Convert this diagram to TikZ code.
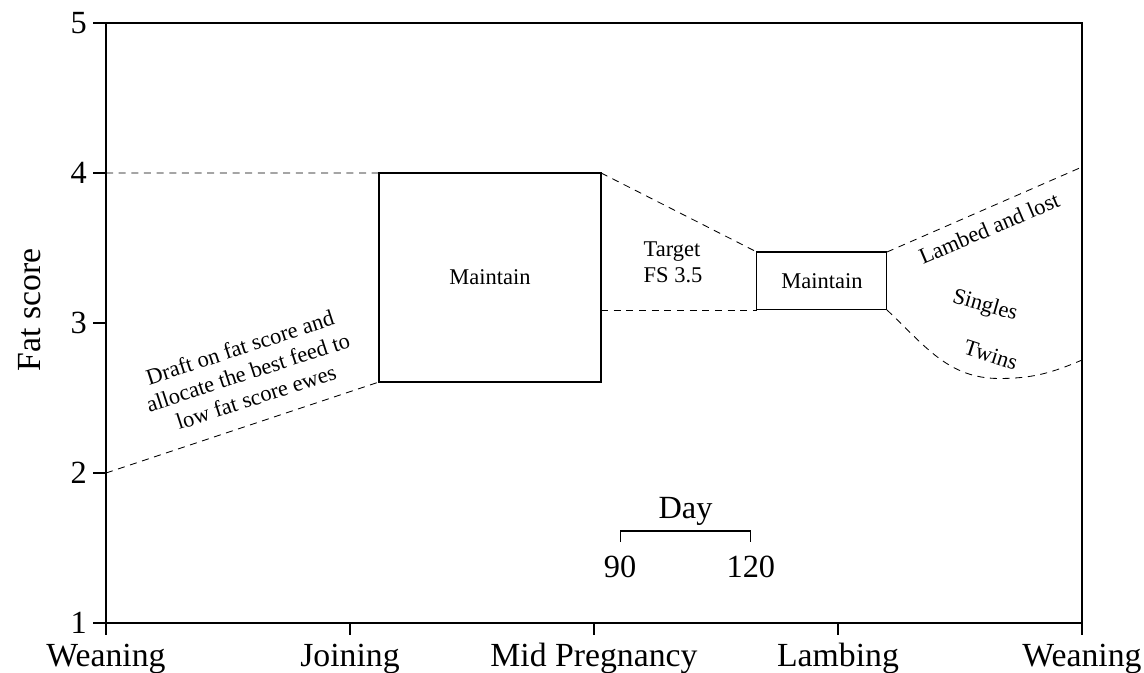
\documentclass[tikz,border=0pt]{standalone}
\usepackage{fontspec}
\setmainfont{Liberation Serif}
\begin{document}
\begin{tikzpicture}[x=6.1cm, y=3.75cm,
    dashline/.style={dash pattern=on 5pt off 4pt, line width=0.6pt},
    phase/.style={draw, line width=0.8pt, inner sep=0pt, outer sep=0pt, font=\fontsize{16}{18.5}\selectfont},
    big/.style={font=\fontsize{24}{28}\selectfont},
    num/.style={font=\fontsize{23}{27}\selectfont},
    note/.style={font=\fontsize{16}{18.5}\selectfont, align=center}]
    \useasboundingbox (-0.4344,0.6667) rectangle (4.2541,5.1533);
    % Frame
    \draw[line width=0.8pt] (0,5) -- (0,1) -- (4,1) -- (4,5) -- cycle;
    % Fat score ticks
    \foreach \y in {1,...,5}
        \draw[line width=0.8pt] (-0.053,\y) -- (0,\y) node[num, pos=0, anchor=east, inner sep=4pt] (y\y) {\y};
    % Stage ticks
    \foreach \x/\lab [count=\i] in {0/Weaning,1/Joining,2/Mid Pregnancy,3/Lambing,4/Weaning} {
        \draw[line width=0.8pt] (\x,1) -- (\x,0.92);
        \node[big, anchor=base] (x\i) at (\x,0.707) {\lab};
    }
    \node[big, rotate=90] (ylab) at (-0.311,3.087) {Fat score};
    % Maintain boxes
    \node[phase, minimum width=5.55cm, minimum height=5.225cm] (keep1) at (1.574,3.3035) {Maintain};
    \node[phase, minimum width=3.25cm, minimum height=1.447cm] (keep2) at (2.934,3.28) {Maintain};
    \node[note, align=left] (target) at (2.324,3.407) {Target\\FS 3.5};
    % Ends of the dashed lines
    \coordinate (s4) at (0,4);
    \coordinate (s2) at (0,2);
    \coordinate (lost) at (4,4.04);
    \coordinate (low) at (3.66,2.63);
    \coordinate (twin) at (4,2.753);
    \draw[dashline] (s4) -- (keep1.north west);
    \draw[dashline] (s2) -- (keep1.south west);
    \draw[dashline] (keep1.north east) -- (keep2.north west);
    \draw[dashline] (keep1.east |- keep2.south west) -- (keep2.south west);
    \draw[dashline] (keep2.north east) -- (lost);
    \draw[dashline] (keep2.south east) to[out=-43, in=180] (low) to[out=0, in=-157] (twin);
    % Labels along the lines
    \node[note, rotate=18] (draft) at (0.582,2.673) {Draft on fat score and\\allocate the best feed to\\low fat score ewes};
    \node[note, rotate=23] (lambed) at (3.619,3.633) {Lambed and lost};
    \node[note, rotate=-16] (single) at (3.602,3.113) {Singles};
    \node[note, rotate=-18] (twins) at (3.627,2.787) {Twins};
    % Day scale
    \node[num] (d90) at (2.107,1.373) {90};
    \node[num] (d120) at (2.643,1.373) {120};
    \coordinate (b1) at (2.107,1.613);
    \coordinate (b2) at (2.643,1.613);
    \draw[line width=0.8pt] ([yshift=-0.275cm]b1) -- (b1) -- node[num, above] (day) {Day} (b2) -- ([yshift=-0.275cm]b2);
\end{tikzpicture}
\end{document}
